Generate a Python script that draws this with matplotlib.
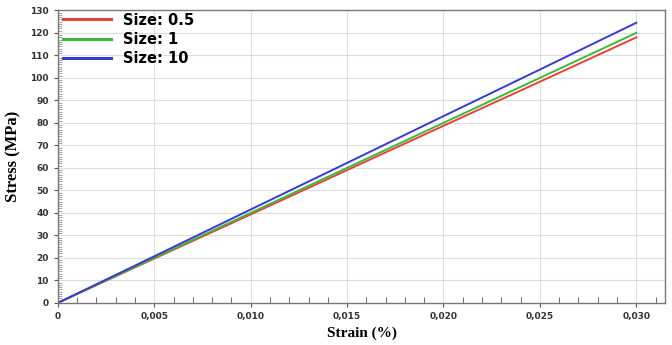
import matplotlib.pyplot as plt
import numpy as np
from matplotlib.ticker import MultipleLocator, FuncFormatter

# Данные
strain = [0, 0.005, 0.010, 0.015, 0.020, 0.025, 0.030]
stress_05 = [0, 19.7, 39.3, 59.0, 78.7, 98.3, 118.0]
stress_1 = [0, 20.0, 40.0, 60.0, 80.0, 100.0, 120.0]
stress_10 = [0, 20.7, 41.5, 62.2, 83.0, 103.7, 124.5]
labels = ['Size: 0.5', 'Size: 1', 'Size: 10']
colors = ['#e8413a', '#3cb93c', '#3a3ad0']

fig, ax = plt.subplots(figsize=(6.72, 3.45), dpi=100)
fig.subplots_adjust(left=0.086, right=0.99, top=0.97, bottom=0.122)

for y, lab, c in zip([stress_05, stress_1, stress_10], labels, colors):
    ax.plot(strain, y, color=c, linewidth=1.4, label=lab)

ax.set_xlim(0, 0.0315)
ax.set_ylim(0, 130)
ax.xaxis.set_major_locator(MultipleLocator(0.005))
ax.xaxis.set_minor_locator(MultipleLocator(0.001))
ax.yaxis.set_major_locator(MultipleLocator(10))
ax.yaxis.set_minor_locator(MultipleLocator(1))
ax.xaxis.set_major_formatter(FuncFormatter(lambda v, p: '0' if v == 0 else f'{v:.3f}'.replace('.', ',')))

ax.grid(True, which='major', color='#dddddd', linewidth=0.8)
ax.tick_params(axis='both', which='major', labelsize=6.5, length=3, color='#555555', direction='out')
ax.tick_params(axis='x', which='minor', length=4, direction='in', color='#555555')
ax.tick_params(axis='y', which='minor', length=3, direction='in', color='#999999')
for lbl in ax.get_xticklabels() + ax.get_yticklabels():
    lbl.set_fontweight('bold')
    lbl.set_color('#333333')
for s in ax.spines.values():
    s.set_color('#777777')
    s.set_linewidth(1.0)

ax.set_xlabel('Strain (%)', family='Liberation Serif', fontweight='bold', fontsize=11, labelpad=4)
ax.set_ylabel('Stress (MPa)', family='Liberation Serif', fontweight='bold', fontsize=12, labelpad=6)

leg = ax.legend(loc='upper left', frameon=False, handlelength=3.3, handletextpad=0.8,
                labelspacing=0.3, borderaxespad=0.05, borderpad=0.1,
                bbox_to_anchor=(0.005, 1.0), prop={'weight': 'bold', 'size': 10.5})
for line in leg.get_lines():
    line.set_linewidth(2.2)

plt.savefig('out.png', dpi=100)
